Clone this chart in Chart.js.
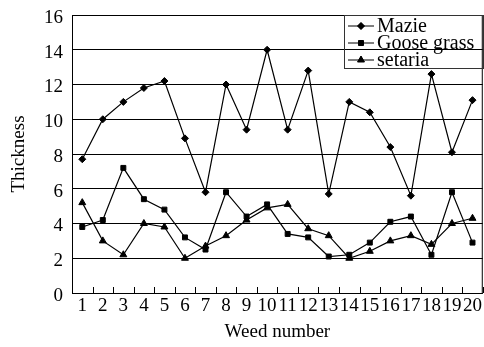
<!DOCTYPE html>
<html>
<head>
<meta charset="utf-8">
<script src="https://cdn.jsdelivr.net/npm/chart.js@4/dist/chart.umd.min.js"></script>
<style>
  html, body { margin: 0; padding: 0; background: #fff; }
  canvas { display: block; }
</style>
</head>
<body>
<canvas id="c" width="484" height="347"></canvas>
<script>
// weed numbers 1..20
const weeds = ["1","2","3","4","5","6","7","8","9","10","11","12","13","14","15","16","17","18","19","20"];
const mazie = [7.7, 10, 11, 11.8, 12.2, 8.9, 5.8, 12, 9.4, 14, 9.4, 12.8, 5.7, 11, 10.4, 8.4, 5.6, 12.6, 8.1, 11.1];
const gooseGrass = [3.8, 4.2, 7.2, 5.4, 4.8, 3.2, 2.5, 5.8, 4.4, 5.1, 3.4, 3.2, 2.1, 2.2, 2.9, 4.1, 4.4, 2.2, 5.8, 2.9];
const setaria = [5.2, 3.0, 2.2, 4.0, 3.8, 2.0, 2.7, 3.3, 4.2, 4.9, 5.1, 3.7, 3.3, 2.0, 2.4, 3.0, 3.3, 2.8, 4.0, 4.3];
const yTicks = [0, 2, 4, 6, 8, 10, 12, 14, 16];

const FONT = "'Liberation Serif', 'Times New Roman', serif";

function series(label, data, style, radius) {
  return {
    label, data,
    borderColor: "#000", backgroundColor: "#000",
    borderWidth: 1.2, pointStyle: style, pointRadius: radius,
    pointBorderWidth: 1, tension: 0
  };
}

/** frame, inside x ticks and the boxed legend */
const decor = {
  id: "decor",
  afterDraw(chart) {
    const { ctx, chartArea: a, scales } = chart;
    ctx.save();
    ctx.strokeStyle = "#000";
    ctx.lineWidth = 1;
    ctx.strokeRect(a.left + 0.5, a.top + 0.5, a.right - a.left - 1, a.bottom - a.top);
    // category boundary ticks pointing up
    ctx.beginPath();
    for (let i = 0; i <= weeds.length; i++) {
      const x = Math.round(scales.x.getPixelForValue(i - 0.5)) + 0.5;
      ctx.moveTo(x, a.bottom);
      ctx.lineTo(x, a.bottom - 6);
    }
    ctx.stroke();

    // legend
    const bx = 344, by = 15, bw = 139, bh = 53;
    ctx.strokeStyle = "#333";
    ctx.strokeRect(bx + 0.5, by + 0.5, bw, bh);
    ctx.font = "20px " + FONT;
    ctx.fillStyle = "#000";
    ctx.textBaseline = "middle";
    chart.data.datasets.forEach((ds, i) => {
      const y = by + 11 + i * 17;
      ctx.strokeStyle = "#000";
      ctx.beginPath();
      ctx.moveTo(bx + 4, y);
      ctx.lineTo(bx + 30, y);
      ctx.stroke();
      Chart.helpers.drawPoint(ctx, { pointStyle: ds.pointStyle, radius: ds.pointRadius, borderWidth: 1 }, bx + 17, y);
      ctx.fill();
      ctx.fillText(ds.label, bx + 33, y + 1);
    });
    ctx.restore();
  }
};

new Chart(document.getElementById("c"), {
  type: "line",
  data: {
    labels: weeds,
    datasets: [
      series("Mazie", mazie, "rectRot", 3.5),
      series("Goose grass", gooseGrass, "rect", 3.5),
      series("setaria", setaria, "triangle", 4)
    ]
  },
  options: {
    responsive: false,
    devicePixelRatio: 1,
    animation: false,
    layout: { autoPadding: false, padding: { top: 15, right: 0, left: 4, bottom: 0 } },
    plugins: { legend: { display: false }, tooltip: { enabled: false } },
    scales: {
      x: {
        offset: true,
        grid: { display: false, drawTicks: false },
        border: { display: false },
        ticks: { color: "#000", font: { family: FONT, size: 19 }, autoSkip: false, maxRotation: 0, padding: 2 },
        title: { display: true, text: "Weed number", color: "#000", font: { family: FONT, size: 19 }, padding: { top: 2 } },
        afterFit(s) { s.height = 54; }
      },
      y: {
        min: 0, max: 16,
        afterBuildTicks(s) { s.ticks = yTicks.map(v => ({ value: v })); },
        grid: { color: "#000", lineWidth: 1, drawTicks: false },
        border: { display: false },
        // small lineHeight keeps the top label from pushing the plot down
        ticks: { color: "#000", font: { family: FONT, size: 19, lineHeight: 0.6 }, padding: 9, labelOffset: 3 },
        title: { display: true, text: "Thickness", color: "#000", font: { family: FONT, size: 19 } },
        afterFit(s) { s.width = 68; }
      }
    }
  },
  plugins: [decor]
});
</script>
</body>
</html>
